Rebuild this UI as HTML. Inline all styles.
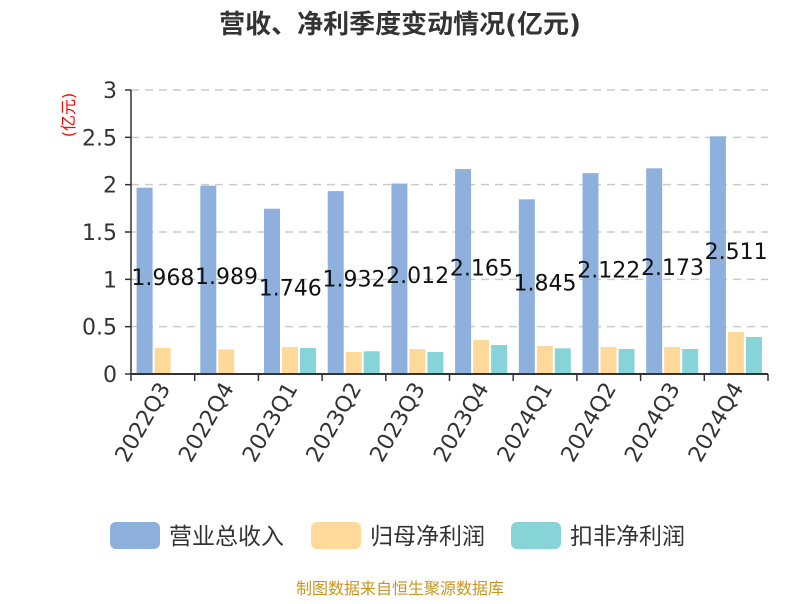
<!DOCTYPE html><html><head><meta charset="utf-8"><style>
body{margin:0;background:#fff;font-family:"DejaVu Sans","Noto Sans CJK SC",sans-serif}
</style></head><body>
<svg id="c" width="800" height="600" xmlns="http://www.w3.org/2000/svg" font-family="DejaVu Sans, Noto Sans CJK SC, sans-serif"></svg>
<script>
const categories=["2022Q3","2022Q4","2023Q1","2023Q2","2023Q3","2023Q4","2024Q1","2024Q2","2024Q3","2024Q4"];
const revenue=[1.968,1.989,1.746,1.932,2.012,2.165,1.845,2.122,2.173,2.511];
const netProfit=[0.275,0.26,0.285,0.232,0.264,0.359,0.296,0.285,0.285,0.444];
const nonNetProfit=[null,null,0.275,0.24,0.232,0.306,0.271,0.264,0.264,0.391];
const yTicks=[0,0.5,1,1.5,2,2.5,3];
const yTickLabels=["0","0.5","1","1.5","2","2.5","3"];
const svg=document.getElementById('c');const NS="http://www.w3.org/2000/svg";
function mk(t,a,p){const e=document.createElementNS(NS,t);for(const k in a)e.setAttribute(k,a[k]);(p||svg).appendChild(e);return e;}
const x0=131,x1=768,y0=374,yTop=90,yMax=3;
const bw=(x1-x0)/categories.length;
const Y=v=>y0-(v/yMax)*(y0-yTop);
const X=i=>x0+i*bw;
let t=mk('text',{x:400,y:33,'text-anchor':'middle','font-size':26,'font-weight':'bold',fill:'#333'});t.textContent="营收、净利季度变动情况(亿元)";


t=mk('text',{x:0,y:0,'text-anchor':'middle','font-size':16,fill:'red',transform:'translate(74,115) rotate(-90)'});t.textContent="(亿元)";


yTicks.forEach((v,i)=>{
 if(v>0){const l=mk('line',{x1:x0,x2:x1,y1:Y(v),y2:Y(v),stroke:'#ccc','stroke-width':1.5,'stroke-dasharray':'8,6'});
 
 }
 const tk=mk('line',{x1:x0-6,x2:x0,y1:Y(v),y2:Y(v),stroke:'#333','stroke-width':1.5});
 
 
 const tl=mk('text',{x:x0-14,y:Y(v)+8,'text-anchor':'end','font-size':22,fill:'#333'});tl.textContent=yTickLabels[i];
 
 
});
const series=[[revenue,'#8eb0dd','revenue'],[netProfit,'#fed99a','net-profit'],[nonNetProfit,'#87d4d8','non-net-profit']];
categories.forEach((c,i)=>{
 series.forEach(([arr,col,nm],s)=>{
  const v=arr[i];if(v==null)return;
  const r=mk('rect',{x:X(i)+5.6+s*18,y:Y(v),width:16,height:y0-Y(v),fill:col});
  
  
 });
 const vl=mk('text',{x:X(i)+bw/2,y:(Y(revenue[i])+y0)/2+4,'text-anchor':'middle','font-size':22,fill:'#111'});vl.textContent=revenue[i].toFixed(3);
 
 
 const tk=mk('line',{x1:X(i),x2:X(i),y1:y0,y2:y0+7,stroke:'#333','stroke-width':1.5});
 
 
 const cx=X(i)+bw/2;
 const xl=mk('text',{x:0,y:0,'text-anchor':'end','font-size':22,fill:'#333',transform:`translate(${cx+8},${y0+14}) rotate(-60)`});xl.textContent=c;
 
 
});
let tk=mk('line',{x1:x1,x2:x1,y1:y0,y2:y0+7,stroke:'#333','stroke-width':1.5});


let ax=mk('line',{x1:x0,x2:x0,y1:yTop,y2:y0,stroke:'#333','stroke-width':1.5});


ax=mk('line',{x1:x0,x2:x1,y1:y0,y2:y0,stroke:'#333','stroke-width':2});


const legend=[["营业总收入",'#8eb0dd',110],["归母净利润",'#fed99a',311],["扣非净利润",'#87d4d8',511]];
legend.forEach(([n,col,lx])=>{
 const g=mk('g',{});
 
 
 mk('rect',{x:lx,y:522,width:50,height:27,rx:6,fill:col},g);
 const tt=mk('text',{x:lx+59,y:544,'font-size':23,fill:'#333'},g);tt.textContent=n;
});
t=mk('text',{x:400,y:594,'text-anchor':'middle','font-size':16,fill:'#c8961e'});t.textContent="制图数据来自恒生聚源数据库";


</script></body></html>
